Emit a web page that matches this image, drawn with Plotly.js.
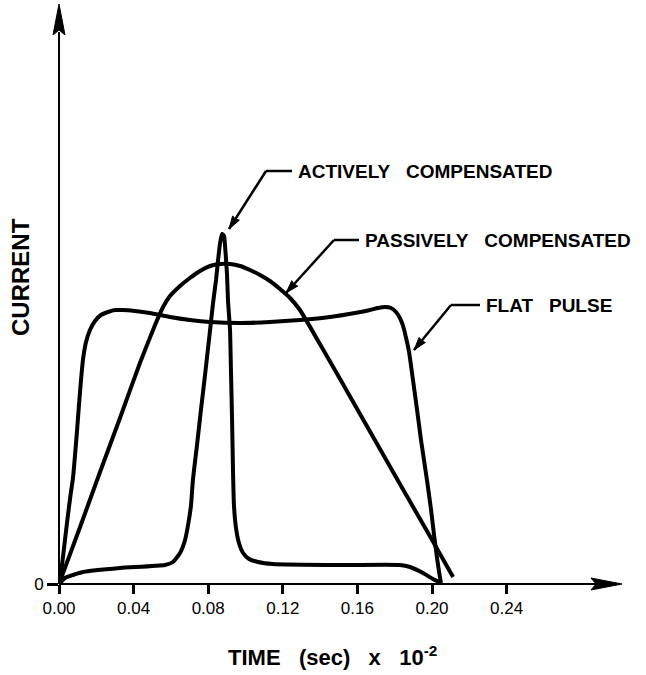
<!DOCTYPE html>
<html>
<head>
<meta charset="utf-8">
<script src="https://cdn.plot.ly/plotly-3.0.1.min.js"></script>
<style>html,body{margin:0;padding:0;background:#fff;}#chart{width:646px;height:675px;}</style>
</head>
<body>
<div id="chart"></div>
<script>
// ---- data (time in sec x 10^-2, current in arbitrary units) ----
const activeTime = [0, 0.0032, 0.0075, 0.0129, 0.0327, 0.0568, 0.0611, 0.0649, 0.0676, 0.0692, 0.0708, 0.0718, 0.0740, 0.0761, 0.0783, 0.0810, 0.0826, 0.0842, 0.0853, 0.0863, 0.0874, 0.0885, 0.0890, 0.0895, 0.0901, 0.0906, 0.0917, 0.0922, 0.0928, 0.0933, 0.0938, 0.0949, 0.0965, 0.0987, 0.1019, 0.1067, 0.1147, 0.1507, 0.1828, 0.1882, 0.1952, 0.2005, 0.2048];
const activeCurrent = [0, 0.06, 0.09, 0.12, 0.16, 0.19, 0.22, 0.31, 0.44, 0.59, 0.79, 1.04, 1.39, 1.74, 2.09, 2.54, 2.81, 3.04, 3.24, 3.40, 3.50, 3.48, 3.39, 3.26, 3.09, 2.84, 2.54, 2.14, 1.64, 1.14, 0.79, 0.56, 0.41, 0.31, 0.25, 0.22, 0.20, 0.19, 0.19, 0.17, 0.11, 0.05, 0.01];

const passiveTime = [0, 0.0113, 0.0220, 0.0327, 0.0434, 0.0515, 0.0558, 0.0595, 0.0649, 0.0702, 0.0756, 0.0810, 0.0863, 0.0917, 0.0971, 0.1024, 0.1078, 0.1131, 0.1185, 0.1239, 0.1292, 0.1399, 0.1507, 0.1614, 0.1721, 0.1828, 0.1936, 0.2043, 0.2113];
const passiveCurrent = [0, 0.57, 1.12, 1.66, 2.21, 2.59, 2.77, 2.88, 2.98, 3.06, 3.13, 3.18, 3.20, 3.20, 3.18, 3.14, 3.09, 3.03, 2.95, 2.86, 2.74, 2.40, 2.05, 1.70, 1.35, 1.00, 0.65, 0.30, 0.07];

const flatTime = [0, 0.0016, 0.0032, 0.0048, 0.0064, 0.0075, 0.0086, 0.0097, 0.0107, 0.0118, 0.0129, 0.0145, 0.0166, 0.0193, 0.0225, 0.0263, 0.0300, 0.0338, 0.0408, 0.0488, 0.0595, 0.0702, 0.0810, 0.0971, 0.1131, 0.1292, 0.1453, 0.1587, 0.1668, 0.1710, 0.1748, 0.1780, 0.1807, 0.1828, 0.1845, 0.1861, 0.1877, 0.1898, 0.1920, 0.1941, 0.1973, 0.1995, 0.2011, 0.2027, 0.2038, 0.2048];
const flatCurrent = [0, 0.19, 0.44, 0.69, 0.92, 1.06, 1.29, 1.54, 1.79, 2.04, 2.25, 2.42, 2.54, 2.63, 2.69, 2.72, 2.74, 2.74, 2.73, 2.71, 2.67, 2.64, 2.62, 2.61, 2.62, 2.64, 2.67, 2.71, 2.74, 2.76, 2.77, 2.76, 2.72, 2.66, 2.58, 2.46, 2.32, 2.04, 1.74, 1.44, 1.04, 0.74, 0.49, 0.26, 0.12, 0.01];

const xTickVals = [0, 0.04, 0.08, 0.12, 0.16, 0.20, 0.24];
const xTickText = ['0.00', '0.04', '0.08', '0.12', '0.16', '0.20', '0.24'];
const yTickVals = [0];
const yTickText = ['0'];
const seriesNames = ['ACTIVELY COMPENSATED', 'PASSIVELY COMPENSATED', 'FLAT PULSE'];

// ---- layout helpers (pixel -> paper fraction, decorations only) ----
const ML = 59, MB = 91, MR = 10, MT = 0, W = 646, H = 675;
const PW = W - ML - MR, PH = H - MB - MT;
const PXU = 1865, PYU = 100;
const px = p => (p - ML) / PW;
const py = p => (H - MB - p) / PH;

function head(tx, ty, sx, sy, L, Wd, notch) {
  const d = Math.hypot(tx - sx, ty - sy);
  const ux = (tx - sx) / d, uy = (ty - sy) / d;
  const nx = -uy, ny = ux;
  const bx = tx - L * ux, by = ty - L * uy;
  const mx = tx - (L - notch) * ux, my = ty - (L - notch) * uy;
  const pts = [[tx, ty], [bx + Wd * nx, by + Wd * ny], [mx, my], [bx - Wd * nx, by - Wd * ny]];
  const path = 'M' + pts.map(p => px(p[0]).toFixed(5) + ',' + py(p[1]).toFixed(5)).join('L') + 'Z';
  return {type: 'path', path: path, xref: 'paper', yref: 'paper', fillcolor: '#000', line: {color: '#000', width: 1}, layer: 'above'};
}
function seg(x0, y0, x1, y1, w) {
  return {type: 'line', xref: 'paper', yref: 'paper', x0: px(x0), y0: py(y0), x1: px(x1), y1: py(y1), line: {color: '#000', width: w}, layer: 'above'};
}

const lineStyle = {color: '#000', width: 4, shape: 'spline', smoothing: 0.5};
const traces = [
  {x: activeTime, y: activeCurrent, name: seriesNames[0], mode: 'lines', line: lineStyle},
  {x: passiveTime, y: passiveCurrent, name: seriesNames[1], mode: 'lines', line: lineStyle},
  {x: flatTime, y: flatCurrent, name: seriesNames[2], mode: 'lines', line: lineStyle}
];

const FONT = 'Liberation Sans, Arial, Helvetica, sans-serif';
const labelFont = {family: FONT, size: 19, color: '#000', weight: 'bold'};
const gap = '\u00a0\u00a0\u00a0';

// leader definitions: [text x, text y, elbow x, tip x, tip y]
const leaders = [
  [296, 171, 266, 229, 229],
  [363, 240, 334, 286, 293],
  [484, 305, 451, 414, 350]
];

const shapes = [
  seg(59, 584, 598, 584, 2),
  seg(59, 584, 59, 32, 2),
  head(622, 584, 59, 584, 31, 6, 5),
  head(59, 4, 59, 584, 31, 6, 5)
];
const annotations = [];
leaders.forEach((l, i) => {
  shapes.push(seg(l[2], l[1], l[0] - 4, l[1], 2.5));
  shapes.push(seg(l[2], l[1], l[3], l[4], 2.5));
  shapes.push(head(l[3], l[4], l[2], l[1], 13, 4, 1));
  annotations.push({x: px(l[0]), y: py(l[1]), xref: 'paper', yref: 'paper', xanchor: 'left', yanchor: 'middle',
    text: seriesNames[i].replace(' ', gap), showarrow: false, font: labelFont});
});
annotations.push({x: px(332), y: py(656), xref: 'paper', yref: 'paper', xanchor: 'center', yanchor: 'middle',
  text: 'TIME' + gap + '(sec)' + gap + 'x' + gap + '10<sup>-2</sup>', showarrow: false,
  font: {family: FONT, size: 22, color: '#000', weight: 'bold'}});
annotations.push({x: px(20), y: py(277), xref: 'paper', yref: 'paper', xanchor: 'center', yanchor: 'middle',
  text: 'CURRENT', textangle: -90, showarrow: false,
  font: {family: FONT, size: 24, color: '#000', weight: 'bold'}});

const layout = {
  width: W, height: H,
  margin: {l: ML, r: MR, t: MT, b: MB, pad: 0},
  paper_bgcolor: '#fff', plot_bgcolor: '#fff',
  showlegend: false,
  font: {family: FONT, size: 17, color: '#000'},
  xaxis: {range: [0, PW / PXU], showgrid: false, zeroline: false, showline: false,
    tickmode: 'array', tickvals: xTickVals, ticktext: xTickText, ticks: 'outside', ticklen: 9, tickwidth: 3, tickcolor: '#000',
    tickfont: {family: FONT, size: 17, color: '#000'}},
  yaxis: {range: [0, PH / PYU], showgrid: false, zeroline: false, showline: false,
    tickmode: 'array', tickvals: yTickVals, ticktext: yTickText, ticks: 'outside', ticklen: 11, tickwidth: 3, tickcolor: '#000',
    tickfont: {family: FONT, size: 17, color: '#000'}},
  shapes: shapes,
  annotations: annotations
};
Plotly.newPlot('chart', traces, layout, {displayModeBar: false, staticPlot: true});
</script>
</body>
</html>
